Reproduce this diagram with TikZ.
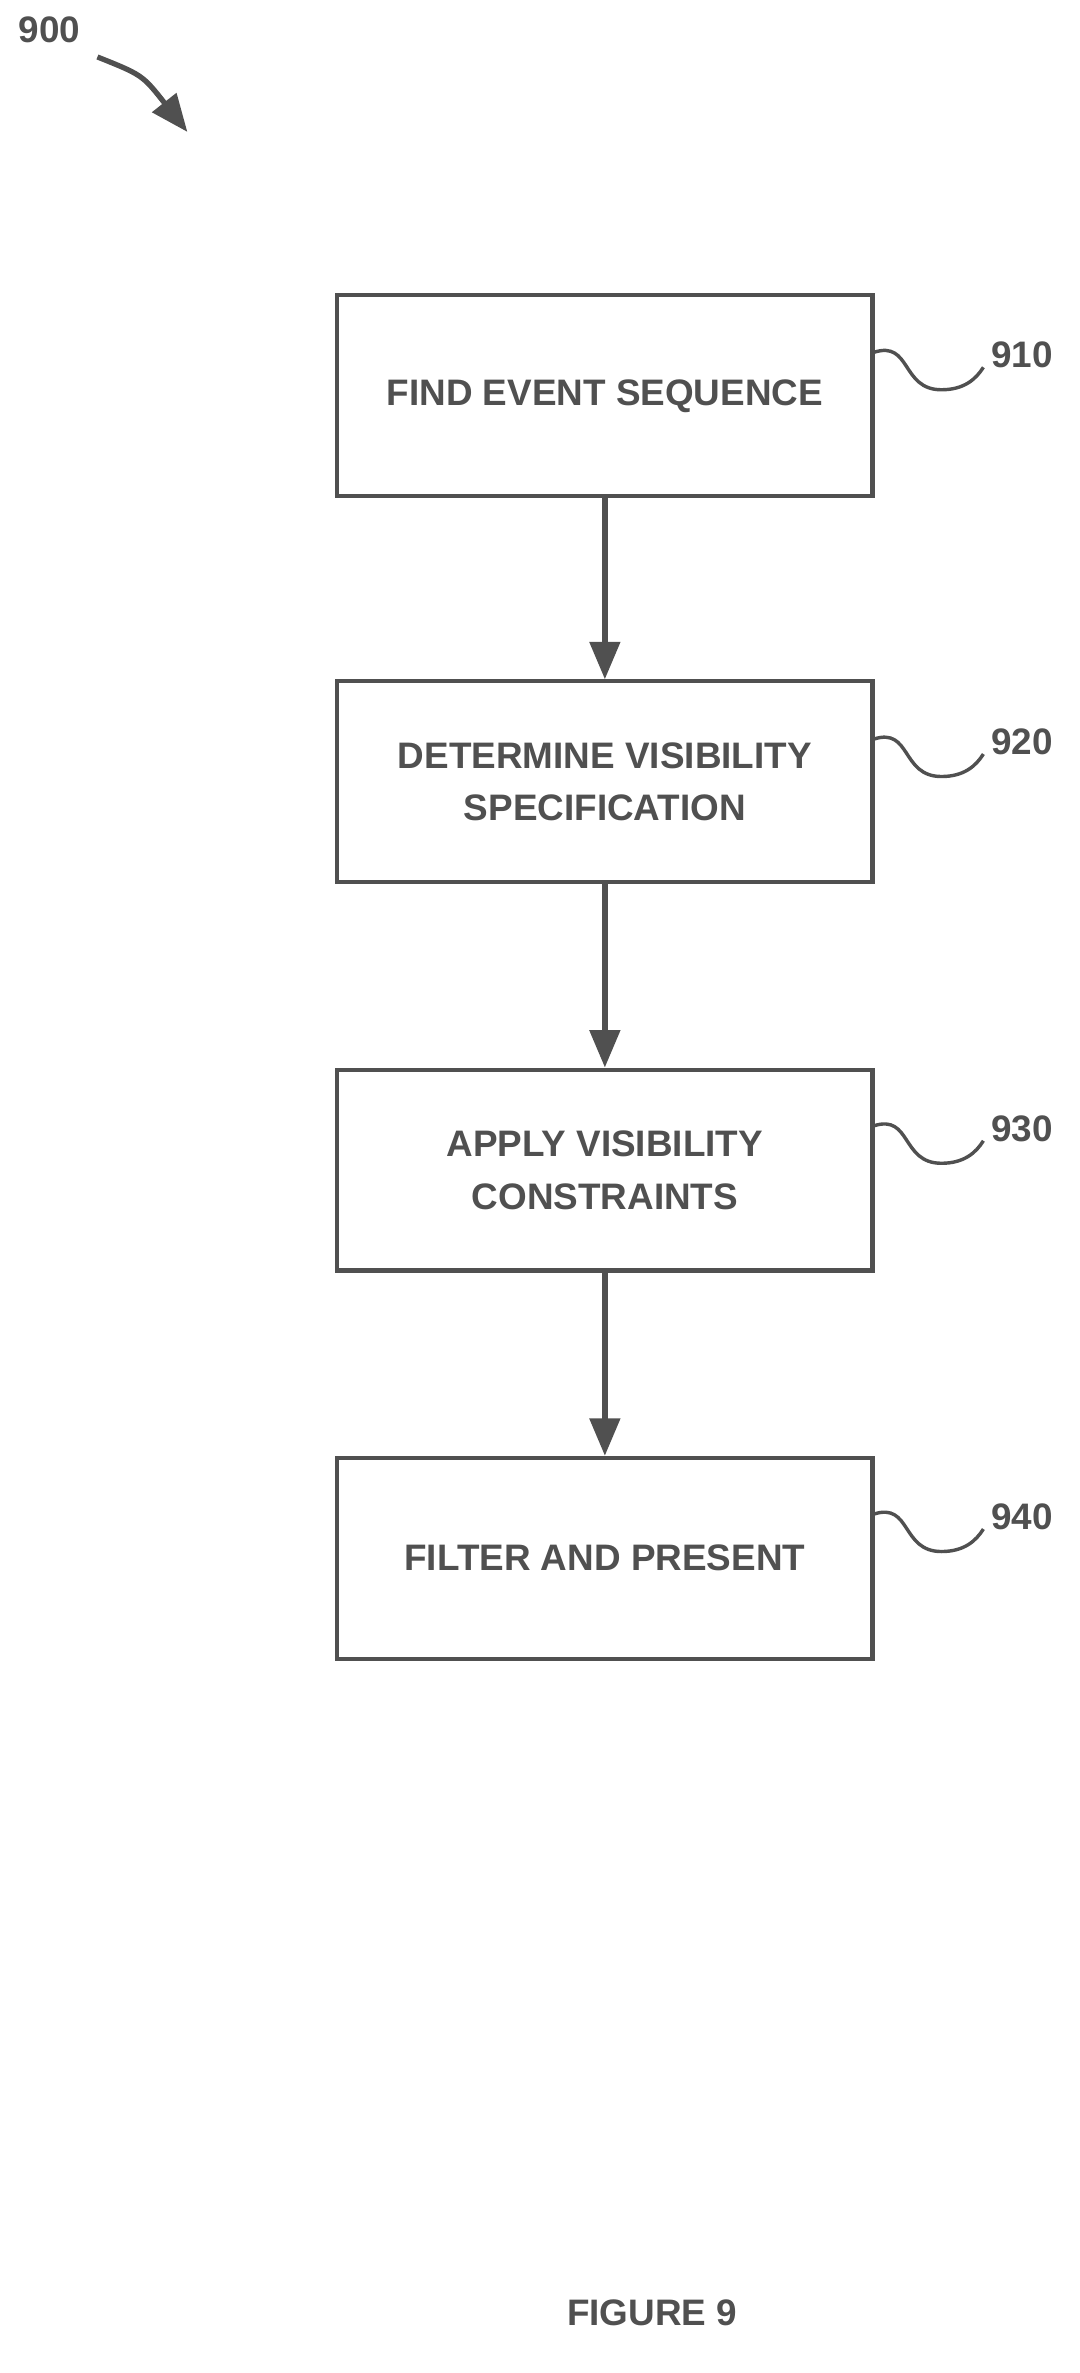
\documentclass[tikz,border=0pt]{standalone}
\usepackage{fontspec}
\setmainfont{Liberation Sans}
\usetikzlibrary{positioning,arrows.meta}
\definecolor{inkgray}{HTML}{505050}
\tikzset{
  stepbox/.style={draw=inkgray,line width=1.6pt,minimum width=7.14cm,minimum height=2.68cm,
    align=center,text=inkgray,font=\fontsize{14}{20}\selectfont\bfseries},
  flow/.style={draw=inkgray,line width=2pt,-{Triangle[length=0.5cm,width=0.4cm]}},
  lbl/.style={text=inkgray,font=\fontsize{14}{16}\selectfont\bfseries},
  squig/.style={draw=inkgray,line width=1.3pt}
}
\begin{document}
\begin{tikzpicture}[x=0.02cm,y=-0.02cm]
  \useasboundingbox (0,0) rectangle (720,1583);
  % title marker
  \node[lbl] (fig) at (33,20) {900};
  \coordinate (figtip) at (125,88);
  \draw[flow] (65,38) .. controls (95,50) .. (figtip);

  % steps
  \node[stepbox] (find) at (403.5,264) {FIND EVENT SEQUENCE};
  \node[stepbox] (spec) at (403.5,521.5) {DETERMINE VISIBILITY\\SPECIFICATION};
  \node[stepbox] (apply) at (403.5,780.5) {APPLY VISIBILITY\\CONSTRAINTS};
  \node[stepbox] (filt) at (403.5,1039.5) {FILTER AND PRESENT};

  \draw[flow] (find) -- (spec);
  \draw[flow] (spec) -- (apply);
  \draw[flow] (apply) -- (filt);

  % reference numerals
  \foreach \n/\t/\y in {find/910/235,spec/920/493,apply/930/751,filt/940/1010}{
    \node[lbl,anchor=west] (n\t) at (655,\y+2) {\t};
    \begin{scope}[shift={(583,\y)}]
      \draw[squig] (0,0) .. controls (25,-8) and (18,25) .. (45,25)
        .. controls (60,25) and (68,18) .. (73,10);
    \end{scope}
  }

  \node[lbl] (caption) at (435,1543) {FIGURE 9};
\end{tikzpicture}
\end{document}
